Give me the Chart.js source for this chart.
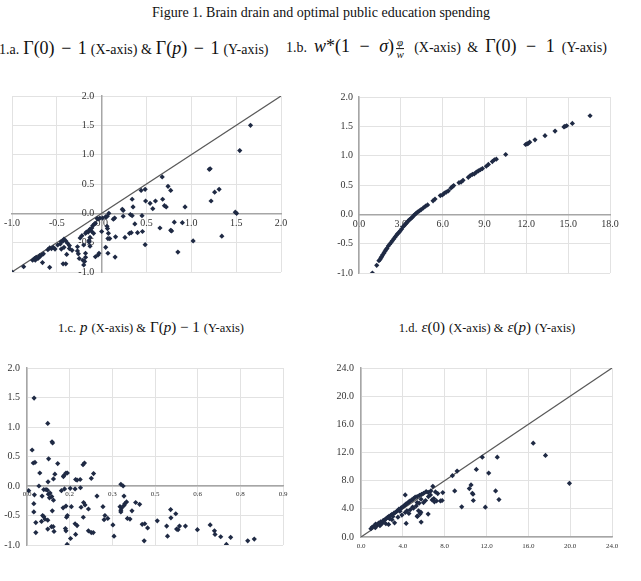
<!DOCTYPE html>
<html>
<head>
<meta charset="utf-8">
<script src="https://cdn.jsdelivr.net/npm/chart.js@4.4.0/dist/chart.umd.min.js"></script>
<style>
  body { margin: 0; background: #fff; width: 641px; height: 581px; position: relative; overflow: hidden; }
  .txt { position: absolute; white-space: nowrap; font-family: "Liberation Serif", "DejaVu Serif", serif; color: #111; transform: translate(-50%, -50%); }
  .left { transform: translate(0, -50%); }
  .t { font-size: 12.5px; }
  .m { font-size: 15px; }
  .big .t { font-size: 14px; }
  .big .m { font-size: 18px; }
  .wide { word-spacing: 3px; }
  .op { margin: 0 2px; }
  .frac { display: inline-block; vertical-align: middle; text-align: center; font-size: 11px; line-height: 11px; margin: 0 3px 0 2px; }
  .frac span { display: block; }
  .frac .num { border-bottom: 0.8px solid #111; padding: 0 1px; }
  .panel { position: absolute; }
</style>
</head>
<body>
<div class="txt" style="left:321px;top:13px;font-size:14px">Figure 1. Brain drain and optimal public education spending</div>
<div class="txt left big" style="left:-1px;top:48px"><span class="t">1.a.</span> <span class="m">Γ(0) <span class="op">−</span> 1</span> <span class="t">(X-axis) &amp;</span> <span class="m">Γ(<i>p</i>) <span class="op">−</span> 1</span> <span class="t">(Y-axis)</span></div>
<div class="txt left big wide" style="left:286px;top:48px"><span class="t">1.b.</span> <span class="m"><i>w</i>*(1 <span class="op">−</span> <i>σ</i>)</span><span class="frac"><span class="num"><i>φ</i></span><span><i>w</i></span></span> <span class="t">(X-axis) &amp;</span> <span class="m">Γ(0) <span class="op">−</span> 1</span> <span class="t">(Y-axis)</span></div>
<div class="txt" style="left:151px;top:327px"><span class="t">1.c.</span> <span class="m"><i>p</i></span> <span class="t">(X-axis) &amp;</span> <span class="m">Γ(<i>p</i>) − 1</span> <span class="t">(Y-axis)</span></div>
<div class="txt" style="left:487px;top:327px"><span class="t">1.d.</span> <span class="m"><i>ε</i>(0)</span> <span class="t">(X-axis) &amp;</span> <span class="m"><i>ε</i>(<i>p</i>)</span> <span class="t">(Y-axis)</span></div>

<div class="panel" style="left:0px;top:85px"><canvas id="chartA" width="300" height="200"></canvas></div>
<div class="panel" style="left:320px;top:85px"><canvas id="chartB" width="321" height="200"></canvas></div>
<div class="panel" style="left:0px;top:355px"><canvas id="chartC" width="300" height="215"></canvas></div>
<div class="panel" style="left:320px;top:355px"><canvas id="chartD" width="321" height="215"></canvas></div>

<script>
// 1.a : Γ(0)-1 (x) et Γ(p)-1 (y)
const aX = [-1.00,-0.87,-0.77,-0.75,-0.74,-0.73,-0.71,-0.69,-0.69,-0.67,-0.65,-0.66,-0.58,-0.60,-0.58,-0.56,-0.54,-0.52,-0.49,-0.46,
  -0.45,-0.43,-0.42,-0.40,-0.38,-0.36,-0.36,-0.45,-0.42,-0.39,-0.33,-0.27,-0.27,-0.43,-0.40,-0.24,-0.22,-0.18,-0.17,-0.15,
  -0.14,-0.13,-0.11,-0.10,-0.08,-0.07,-0.05,-0.04,-0.02,-0.13,-0.14,-0.14,-0.13,-0.20,-0.18,-0.18,-0.19,-0.20,-0.21,-0.26,
  -0.25,-0.07,-0.04,-0.09,-0.11,
  1.66,1.54,1.20,1.21,0.675,0.74,0.77,1.31,1.26,1.22,0.44,0.485,0.34,0.68,0.70,0.72,0.49,0.54,0.60,0.57,
  0.93,0.23,0.35,1.49,1.505,0.24,0.32,0.34,0.45,0.37,0.81,0.90,1.02,1.34,0.85,0.485,0.65,0.77,0.78,0.33,
  0.40,0.455,0.26,0.155,0.15,0.07,0.045,0.075,0.09,0.07,0.065,0.06,0.145,0.08,0.05,0.045,0.01,0.00,-0.03,0.24,
  0.13,0.063,0.31];
const aY = [-1.00,-0.91,-0.80,-0.77,-0.80,-0.75,-0.77,-0.74,-0.72,-0.71,-0.69,-0.84,-0.92,-0.62,-0.59,-0.60,-0.58,-0.61,-0.54,-0.52,
  -0.48,-0.47,-0.44,-0.47,-0.51,-0.55,-0.60,-0.61,-0.58,-0.70,-0.63,-0.57,-0.64,-0.86,-0.86,-0.42,-0.38,-0.34,-0.32,-0.32,
  -0.29,-0.27,-0.25,-0.21,-0.18,-0.17,-0.09,-0.10,-0.08,-0.41,-0.46,-0.49,-0.56,-0.54,-0.68,-0.75,-0.82,-0.88,-0.80,-0.69,
  -0.77,-0.74,-0.71,-0.34,-0.31,
  1.50,1.07,0.75,0.76,0.62,0.46,0.39,0.41,0.36,0.21,0.39,0.41,0.24,0.24,0.13,0.11,0.21,0.17,0.21,0.08,
  0.11,0.07,0.11,0.02,0.00,-0.05,-0.02,-0.04,-0.04,-0.18,-0.15,-0.16,-0.47,-0.39,-0.66,-0.535,-0.25,-0.29,-0.30,-0.33,
  -0.33,-0.31,-0.41,-0.40,-0.745,-0.68,-0.58,-0.34,-0.43,-0.43,-0.26,-0.22,-0.08,0.00,-0.06,-0.06,-0.08,-0.31,-0.68,0.05,
  -0.10,-0.05,-0.34];

// 1.b : w*(1-σ)φ/w (x) et Γ(0)-1 (y)
const bX = [0.96,1.27,1.43,1.51,1.58,1.63,1.70,1.79,1.86,1.94,2.01,2.10,2.20,2.30,2.39,2.49,2.58,2.68,2.77,2.87,
  2.96,3.06,3.16,3.25,3.35,3.44,3.54,3.63,3.73,3.83,3.92,4.02,4.11,4.21,4.33,4.45,4.61,4.78,4.92,5.31,
  5.45,5.83,5.98,6.12,6.26,6.41,6.60,6.69,6.79,7.17,7.32,7.46,7.84,7.98,8.13,8.27,8.42,8.56,8.70,8.85,
  9.13,9.28,9.56,9.71,9.85,10.52,11.95,12.05,12.14,12.24,12.62,13.34,14.06,14.70,14.77,14.89,15.30,16.57];
const bY = [-1.00,-0.87,-0.79,-0.77,-0.74,-0.72,-0.69,-0.66,-0.63,-0.60,-0.58,-0.54,-0.51,-0.48,-0.45,-0.42,-0.39,-0.36,-0.33,-0.31,
  -0.28,-0.25,-0.21,-0.19,-0.16,-0.14,-0.11,-0.09,-0.07,-0.05,-0.02,0.00,0.02,0.04,0.06,0.08,0.11,0.14,0.16,0.23,
  0.26,0.32,0.33,0.36,0.38,0.40,0.45,0.47,0.49,0.54,0.55,0.58,0.63,0.66,0.68,0.69,0.72,0.74,0.76,0.78,
  0.82,0.85,0.90,0.93,0.94,1.02,1.19,1.20,1.21,1.23,1.27,1.34,1.42,1.49,1.50,1.51,1.55,1.68];

// 1.c : p (x) et Γ(p)-1 (y)
const cX = [0.025,0.073,0.088,0.090,0.018,0.022,0.028,0.076,0.108,0.045,0.098,0.093,0.074,0.128,0.130,0.137,0.142,0.197,0.202,0.171,
  0.176,0.187,0.226,0.234,0.042,0.006,0.026,0.059,0.067,0.072,0.075,0.079,0.087,0.081,0.093,0.053,0.024,0.024,0.031,0.031,
  0.055,0.059,0.063,0.051,0.073,0.073,0.086,0.092,0.095,0.089,0.121,0.132,0.152,0.169,0.188,0.127,0.137,0.156,0.142,0.139,
  0.135,0.137,0.141,0.153,0.169,0.176,0.171,0.190,0.199,0.204,0.198,0.216,0.216,0.226,0.233,0.246,0.267,0.274,0.271,0.284,
  0.302,0.306,0.330,0.338,0.341,0.327,0.333,0.341,0.344,0.350,0.330,0.330,0.353,0.362,0.369,0.382,0.396,0.405,0.414,0.424,
  0.412,0.458,0.491,0.494,0.505,0.506,0.523,0.526,0.531,0.536,0.557,0.599,0.644,0.659,0.661,0.681,0.701,0.716,0.776,0.799];
const cY = [1.49,1.06,0.75,0.73,0.61,0.39,0.40,0.46,0.38,0.22,0.20,0.12,0.07,0.16,0.18,0.22,0.22,0.36,0.39,0.11,
  0.10,0.11,0.13,0.21,0.00,-0.08,-0.15,-0.06,-0.06,-0.07,-0.14,-0.20,-0.18,-0.12,-0.24,-0.17,-0.30,-0.44,-0.62,-0.79,
  -0.50,-0.52,-0.56,-0.60,-0.58,-0.73,-0.69,-0.69,-0.77,-0.42,-0.08,-0.05,-0.04,-0.05,-0.03,-0.37,-0.34,-0.35,-0.50,-0.53,
  -0.72,-0.76,-0.99,-0.89,-0.64,-0.67,-0.82,-0.36,-0.28,-0.32,-0.53,-0.39,-0.76,-0.79,-0.79,-0.17,-0.35,-0.50,-0.57,-0.55,
  -0.66,-0.85,0.03,0.00,-0.17,-0.35,-0.37,-0.33,-0.30,-0.27,-0.41,-0.44,-0.55,-0.56,-0.42,-0.28,-0.31,-0.65,-0.64,-0.71,
  -0.93,-0.59,-0.68,-0.85,-0.40,-0.54,-0.47,-0.73,-0.74,-0.68,-0.68,-0.74,-0.66,-0.76,-0.82,-0.86,-0.99,-0.87,-0.93,-0.90];
const cTickLabels = ["0.0", "0.2", "0.3", "0.5", "0.6", "0.8", "0.9"];

// 1.d : ε(0) (x) et ε(p) (y)
const dX = [16.47,17.64,19.93,11.60,13.03,11.03,12.21,9.19,8.74,8.96,10.36,10.52,10.65,10.71,10.74,12.87,13.19,9.63,11.89,6.42,
  5.75,5.72,5.50,5.37,0.95,1.08,1.27,1.40,1.56,1.68,1.88,2.00,2.13,2.26,2.42,2.54,2.67,2.73,2.83,2.96,
  3.05,3.15,3.27,3.40,3.50,3.62,3.72,3.81,3.94,4.07,4.20,4.32,4.45,4.58,4.70,4.86,5.02,5.18,5.37,5.59,
  5.79,5.98,6.23,6.42,6.68,6.87,7.12,7.34,7.60,7.82,6.80,6.96,7.02,7.22,4.23,4.39,4.32,5.66,5.40,5.98,
  5.75,5.37,4.93,3.21,2.64,2.16,1.37,1.81,2.38,2.96,3.53,3.91,4.23,4.70,5.02,5.28,5.56,6.17,6.45,6.64,
  4.58,7.76];
const dY = [13.32,11.58,7.62,11.34,11.34,9.60,9.08,9.36,8.71,6.54,6.87,7.39,6.21,6.07,5.18,6.54,5.32,4.28,4.24,3.25,
  2.12,3.53,3.72,2.96,1.18,1.41,1.60,1.84,1.69,1.98,2.16,1.88,2.35,2.45,2.64,2.78,2.92,2.59,3.06,3.20,
  2.92,3.39,3.48,3.62,3.76,3.95,3.67,4.09,4.24,4.38,4.52,4.71,4.80,4.99,5.13,5.27,5.46,5.65,5.74,5.93,
  6.07,6.21,6.45,6.35,6.54,7.20,6.40,6.16,5.13,6.31,5.27,5.46,4.99,5.13,5.98,3.72,1.93,3.29,2.92,4.89,
  5.36,4.89,4.24,2.02,1.79,2.21,1.32,1.60,1.88,2.45,2.82,3.11,3.48,3.86,4.09,4.42,4.80,5.18,5.74,5.98,
  3.34,5.18];

const gridColor = "#e2e2e2";
const axisColor = "#a6a6a6";
const labelColor = "#333333";
const pointColor = "#1f2a44";

function toPoints(xs, ys) {
  return xs.map((x, i) => ({ x: x, y: ys[i] }));
}

// axe linéaire; pos = objet {x:0}/{y:0} ou 'left' ; width = largeur fixe pour l'axe 'left'
function makeAxis(min, max, step, pos, fontSize, fmt, pad, width) {
  const axis = {
    type: "linear",
    min: min,
    max: max,
    position: pos,
    ticks: {
      stepSize: step,
      autoSkip: false,
      maxRotation: 0,
      padding: pad,
      color: labelColor,
      font: { family: "Liberation Serif", size: fontSize },
      callback: fmt || (v => v.toFixed(1))
    },
    grid: { color: gridColor, lineWidth: 1, drawTicks: false },
    border: { color: axisColor, width: 1.5 }
  };
  if (width) {
    axis.afterFit = s => { s.width = width; };
  }
  return axis;
}

function makeScatter(id, xs, ys, padding, xAxis, yAxis, diag) {
  const datasets = [{
    data: toPoints(xs, ys),
    pointStyle: "rectRot",
    pointRadius: 2.6,
    backgroundColor: pointColor,
    borderColor: pointColor,
    borderWidth: 0
  }];
  if (diag) {
    datasets.push({
      type: "line",
      data: [{ x: diag[0], y: diag[0] }, { x: diag[1], y: diag[1] }],
      borderColor: "#595959",
      borderWidth: 1.2,
      pointRadius: 0
    });
  }
  return new Chart(document.getElementById(id), {
    type: "scatter",
    data: { datasets: datasets },
    options: {
      responsive: false,
      animation: false,
      layout: { padding: padding },
      plugins: { legend: { display: false }, tooltip: { enabled: false } },
      scales: { x: xAxis, y: yAxis }
    }
  });
}

// axe y au milieu du graphique : on décale le texte avec des espaces
const gap = "\u00a0\u00a0\u00a0";

makeScatter("chartA", aX, aY, { left: 12, top: 11, right: 19, bottom: 13 },
  makeAxis(-1, 2, 0.5, { y: 0 }, 10, null, 4),
  makeAxis(-1, 2, 0.5, { x: 0 }, 10, v => v.toFixed(1) + gap, 0),
  [-1, 2]);

makeScatter("chartB", bX, bY, { left: 9, top: 11, right: 31, bottom: 12 },
  makeAxis(0, 18, 3, { y: 0 }, 10, null, 4),
  makeAxis(-1, 2, 0.5, "left", 10, null, 6, 30),
  null);

makeScatter("chartC", cX, cY, { left: 3, top: 12, right: 17, bottom: 25 },
  makeAxis(0, 0.9, 0.15, { y: 0 }, 7, (v, i) => cTickLabels[i], 4),
  makeAxis(-1, 2, 0.5, "left", 10, null, 7, 24),
  null);

makeScatter("chartD", dX, dY, { left: 7, top: 12, right: 29, bottom: 33 },
  makeAxis(0, 24, 4, { y: 0 }, 7, null, 5),
  makeAxis(0, 24, 4, "left", 10, null, 7, 34),
  [0, 24]);
</script>
</body>
</html>
